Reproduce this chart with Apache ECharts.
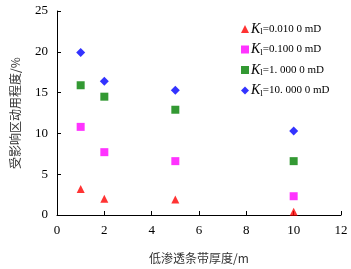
<!DOCTYPE html>
<html>
<head>
<meta charset="utf-8">
<script src="https://cdn.jsdelivr.net/npm/echarts@6/dist/echarts.min.js"></script>
<style>
html, body { margin: 0; padding: 0; background: #fff; }
#chart { width: 351px; height: 269px; }
</style>
</head>
<body>
<div id="chart"></div>
<script>
// thickness of low-permeability band (m)
var thickness = [1, 2, 5, 10];
// share of the affected zone that is produced (%), one list per Kl
var k0010 = [3.2, 2.0, 1.9, 0.4];
var k0100 = [10.8, 7.7, 6.6, 2.3];
var k1000 = [15.9, 14.5, 12.9, 6.6];
var k10000 = [19.9, 16.4, 15.3, 10.3];

var seriesNames = ['=0.010 0 mD', '=0.100 0 mD', '=1. 000 0 mD', '=10. 000 0 mD'];
var seriesValues = [k0010, k0100, k1000, k10000];
var seriesColors = ['#ff0000', '#ff00ff', '#007f00', '#0000ff'];
var seriesSymbols = ['triangle', 'rect', 'rect', 'diamond'];
var symbolSizes = [8, 8, 8, 9];

var serif = 'Liberation Serif';
var cjk = 'Noto Sans CJK SC';

var series = seriesValues.map(function(vals, i) {
    return {
        name: seriesNames[i],
        type: 'scatter',
        symbol: seriesSymbols[i],
        symbolSize: symbolSizes[i],
        itemStyle: { color: seriesColors[i] },
        data: vals.map(function(v, j) { return [thickness[j], v]; })
    };
});

var myChart = echarts.init(document.getElementById('chart'));

var option = {
    animation: false,
    grid: { left: 57, right: 10, top: 11, bottom: 53 },
    legend: {
        orient: 'vertical',
        left: 236,
        top: 17,
        itemGap: 6,
        itemWidth: 8,
        itemHeight: 8,
        data: seriesNames.map(function(n, i) {
            return { name: n, icon: seriesSymbols[i] };
        }),
        formatter: function(name) {
            return '{k|K}{s|l}{t|' + name + '}';
        },
        textStyle: {
            padding: [0, 0, 0, -3],
            rich: {
                k: { fontFamily: serif, fontStyle: 'italic', fontSize: 14, color: '#000' },
                s: { fontFamily: serif, fontSize: 9, color: '#000', verticalAlign: 'bottom', padding: [6, 0, 0, 0] },
                t: { fontFamily: serif, fontSize: 11, color: '#000' }
            }
        }
    },
    xAxis: {
        type: 'value',
        min: 0,
        max: 12,
        interval: 2,
        name: '低渗透条带厚度/m',
        nameLocation: 'middle',
        nameGap: 37,
        nameTextStyle: { fontFamily: cjk, fontSize: 12, color: '#333' },
        axisLine: { lineStyle: { color: '#000', width: 1 } },
        axisTick: { inside: true, length: 4, lineStyle: { color: '#000' } },
        axisLabel: { fontFamily: serif, fontSize: 13, color: '#000', margin: 9 },
        splitLine: { show: false }
    },
    yAxis: {
        type: 'value',
        min: 0,
        max: 25,
        interval: 5,
        name: '受影响区动用程度/%',
        nameLocation: 'middle',
        nameGap: 36,
        nameTextStyle: { fontFamily: cjk, fontSize: 12, color: '#333' },
        axisLine: { show: true, lineStyle: { color: '#000', width: 1 } },
        axisTick: { show: true, inside: true, length: 4, lineStyle: { color: '#000' } },
        axisLabel: { fontFamily: serif, fontSize: 13, color: '#000', margin: 9 },
        splitLine: { show: false }
    },
    series: series
};

myChart.setOption(option);
</script>
</body>
</html>
